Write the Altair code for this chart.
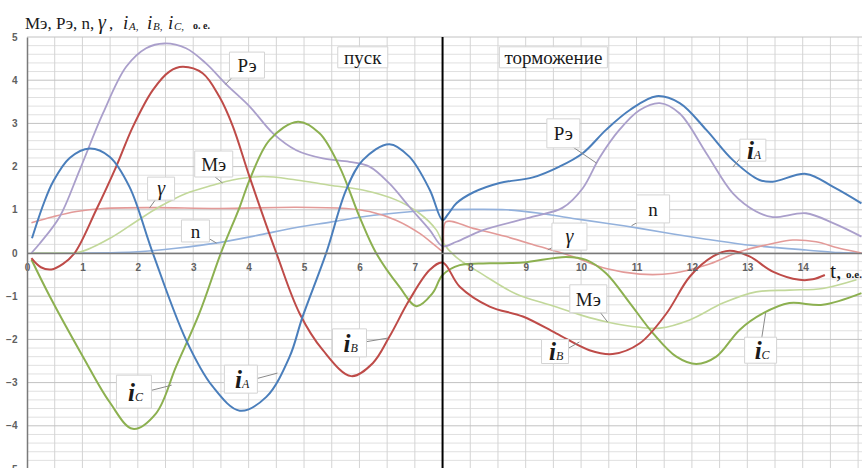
import altair as alt
import numpy as np
import pandas as pd

# ---------------- series (t in o.e., value in o.e.) ----------------
ia_t = [0.09, 0.3, 0.47, 0.77, 1.13, 1.49, 1.85, 2.27, 2.87, 3.35, 3.84, 4.32, 4.74, 4.97, 5.4,
        5.76, 6.06, 6.54, 6.9, 7.27, 7.5, 7.6, 7.75, 8.05, 8.53, 9.13, 9.61, 10.03, 10.45, 10.88,
        11.36, 11.78, 12.26, 12.74, 13.22, 13.46, 14.06, 14.55, 15.06]
ia_v = [0.34, 1.14, 1.65, 2.2, 2.42, 2.23, 1.53, 0.0, -2.01, -3.09, -3.65, -3.33, -2.4, -1.49, 0.0,
        1.46, 2.15, 2.52, 2.23, 1.46, 0.76, 0.9, 1.15, 1.4, 1.62, 1.75, 2.0, 2.31, 2.85, 3.31,
        3.63, 3.47, 2.85, 2.15, 1.69, 1.65, 1.83, 1.53, 1.15]

ib_t = [0.08, 0.25, 0.44, 0.65, 0.86, 1.25, 1.61, 1.91, 2.27, 2.57, 2.81, 3.17, 3.47, 3.71, 4.02,
        4.5, 4.92, 5.34, 5.85, 6.24, 6.54, 6.9, 7.27, 7.5, 7.81, 8.35, 8.95, 9.55, 10.15, 10.57,
        11.06, 11.54, 11.96, 12.38, 12.68, 13.04, 13.46, 13.94, 14.18, 14.4]
ib_v = [-0.12, -0.33, -0.38, -0.25, 0.0, 1.0, 2.0, 2.92, 3.77, 4.2, 4.31, 4.16, 3.62, 2.95, 1.75,
        0.0, -1.4, -2.25, -2.85, -2.55, -1.94, -1.09, -0.39, -0.22, -0.78, -1.24, -1.47, -1.86, -2.25, -2.34,
        -2.09, -1.4, -0.55, -0.08, 0.05, -0.08, -0.43, -0.62, -0.61, -0.51]

ic_t = [0.08, 0.41, 1.01, 1.49, 1.91, 2.33, 2.69, 3.11, 3.5, 3.84, 4.02, 4.38, 4.89, 5.28, 5.64,
        6.0, 6.3, 6.72, 7.03, 7.32, 7.5, 7.81, 8.35, 8.95, 9.73, 10.09, 10.45, 10.88, 11.3, 11.72,
        12.08, 12.44, 12.86, 13.28, 13.76, 14.36, 15.06]
ic_v = [-0.15, -1.0, -2.4, -3.45, -4.07, -3.71, -2.63, -1.4, 0.0, 1.07, 1.7, 2.62, 3.04, 2.77, 2.0,
        0.84, 0.0, -0.78, -1.23, -0.93, -0.51, -0.28, -0.24, -0.22, -0.09, -0.16, -0.47, -1.16, -1.86, -2.4,
        -2.57, -2.4, -1.78, -1.4, -1.16, -1.2, -0.93]

pe_t = [0.08, 0.23, 0.59, 0.95, 1.37, 1.79, 2.15, 2.48, 2.87, 3.23, 3.6, 4.02, 4.44, 4.86, 5.34,
        5.82, 6.18, 6.54, 6.9, 7.27, 7.5, 7.75, 8.23, 9.13, 9.67, 10.03, 10.33, 10.69, 11.06, 11.42,
        11.78, 12.26, 12.74, 13.16, 13.46, 14.06, 14.55, 15.06]
pe_v = [0.0, 0.22, 0.84, 1.92, 3.23, 4.31, 4.74, 4.85, 4.74, 4.39, 3.9, 3.39, 2.77, 2.38, 2.19,
        2.11, 2.0, 1.61, 1.07, 0.53, 0.16, 0.26, 0.53, 0.84, 1.05, 1.5, 2.2, 2.85, 3.31, 3.47,
        3.23, 2.31, 1.38, 0.96, 0.83, 0.92, 0.69, 0.38]

me_t = [0.08, 0.5, 0.95, 1.55, 1.97, 2.39, 2.87, 3.35, 3.71, 4.26, 4.86, 5.46, 6.06, 6.66, 7.08,
        7.39, 7.5, 7.75, 8.23, 8.83, 9.43, 10.03, 10.45, 11.06, 11.42, 11.96, 12.56, 13.16, 13.76, 14.36,
        14.97]
me_v = [0.0, 0.0, 0.02, 0.38, 0.73, 1.07, 1.38, 1.57, 1.69, 1.77, 1.69, 1.57, 1.46, 1.23, 0.92,
        0.53, 0.25, -0.1, -0.5, -0.95, -1.2, -1.45, -1.59, -1.72, -1.74, -1.55, -1.16, -0.9, -0.86, -0.82,
        -0.62]

gm_t = [0.08, 0.47, 0.89, 1.37, 2.27, 3.47, 4.86, 5.76, 6.18, 6.66, 7.08, 7.39, 7.5, 7.56, 8.05,
        8.65, 9.25, 9.85, 10.45, 11.06, 11.66, 12.26, 12.86, 13.46, 13.82, 14.24, 14.66, 15.06]
gm_v = [0.7, 0.84, 0.96, 1.03, 1.05, 1.03, 1.06, 1.03, 0.96, 0.76, 0.46, 0.15, 0.05, 0.72, 0.57,
        0.38, 0.15, -0.08, -0.36, -0.49, -0.47, -0.28, 0.03, 0.22, 0.3, 0.26, 0.11, 0.0]

n_t = [0.08, 1.0, 2.0, 2.69, 3.47, 4.2, 4.86, 5.5, 6.06, 6.96, 7.5, 8.05, 8.65, 9.25, 9.85,
       10.45, 11.06, 11.66, 12.26, 12.86, 13.46, 14.06, 14.66, 15.06]
n_v = [0.0, 0.0, 0.03, 0.11, 0.24, 0.42, 0.59, 0.72, 0.84, 0.96, 1.0, 1.01, 1.0, 0.92, 0.8,
       0.69, 0.57, 0.44, 0.32, 0.21, 0.13, 0.07, 0.01, 0.0]

# start / braking boundary
divider_t = [7.5]

# ---------------- geometry ----------------
T_MAX = 15.07
W, H = 835, 432
PX_T = W / T_MAX
PX_V = H / 10.0

x_scale = alt.Scale(domain=[0, T_MAX], nice=False, zero=False)
y_scale = alt.Scale(domain=[-5, 5], nice=False, zero=False)

SERIF = "Liberation Serif, Times New Roman, serif"

# ---------------- axes (x axis sits on the zero line) ----------------
major_y = list(range(-5, 6))
axis_layer = alt.Chart(pd.DataFrame({"t": [0, T_MAX], "v": [0, 0]})).mark_point(opacity=0).encode(
    x=alt.X("t:Q", scale=x_scale, title=None,
            axis=alt.Axis(values=list(range(0, 15)), grid=False, ticks=False, offset=-H / 2,
                          labelColor="#606060", labelFontSize=10, labelFontWeight="bold",
                          labelFont="Liberation Sans", labelPadding=9, labelFlush=False,
                          domainColor="#7a7a7a", domainWidth=1.5, zindex=1)),
    y=alt.Y("v:Q", scale=y_scale, title=None,
            axis=alt.Axis(values=major_y, grid=False, ticks=False,
                          labelColor="#606060", labelFontSize=10, labelFontWeight="bold",
                          labelFont="Liberation Sans", labelPadding=10, labelFlush=False,
                          domainColor="#7a7a7a", domainWidth=1.5, zindex=1)),
)

# ---------------- grid ----------------
minor_y = [v for v in np.round(np.arange(-5, 5.001, 0.2), 2) if abs(v - round(v)) > 1e-6]
grid_x = list(np.round(np.arange(0.5, T_MAX, 0.5), 2))

grid_minor_y = alt.Chart(pd.DataFrame({"g": minor_y})).mark_rule(
    color="#e0e0e0", strokeWidth=1).encode(y=alt.Y("g:Q", scale=y_scale, axis=None))
grid_major_y = alt.Chart(pd.DataFrame({"g": major_y})).mark_rule(
    color="#c2c2c2", strokeWidth=1).encode(y=alt.Y("g:Q", scale=y_scale, axis=None))
grid_vx = alt.Chart(pd.DataFrame({"g": grid_x})).mark_rule(
    color="#d4d4d4", strokeWidth=1).encode(x=alt.X("g:Q", scale=x_scale, axis=None))

# ---------------- curves ----------------
series = [
    ("n", n_t, n_v, "#93B1DC", 1.6),
    ("γ", gm_t, gm_v, "#E39A98", 1.6),
    ("Мэ", me_t, me_v, "#C2D89A", 1.6),
    ("Рэ", pe_t, pe_v, "#AA9FCB", 1.8),
    ("iC", ic_t, ic_v, "#8CB050", 2.0),
    ("iB", ib_t, ib_v, "#BE4B48", 2.0),
    ("iA", ia_t, ia_v, "#4A7EBB", 2.0),
]
curve_layers = []
for name, ts, vs, color, w in series:
    df = pd.DataFrame({"t": ts, "v": vs, "s": name})
    curve_layers.append(
        alt.Chart(df).mark_line(color=color, strokeWidth=w, interpolate="catmull-rom", clip=True)
        .encode(x=alt.X("t:Q", scale=x_scale, axis=None), y=alt.Y("v:Q", scale=y_scale, axis=None))
    )

divider = alt.Chart(pd.DataFrame({"t": divider_t})).mark_rule(color="black", strokeWidth=2).encode(
    x=alt.X("t:Q", scale=x_scale, axis=None))

# ---------------- callouts ----------------
# text, subscript, centre t, centre v, box width px, box height px, kind
labels = [
    ("Рэ", "", 3.97, 4.35, 35, 26, "plain"),
    ("Мэ", "", 3.37, 2.06, 38, 26, "plain"),
    ("γ", "", 2.42, 1.49, 27, 23, "italic"),
    ("n", "", 3.04, 0.51, 28, 22, "plain"),
    ("i", "C", 1.93, -3.21, 35, 33, "sub"),
    ("i", "A", 3.86, -2.92, 33, 28, "sub"),
    ("i", "B", 5.82, -2.08, 34, 28, "sub"),
    ("Рэ", "", 9.68, 2.77, 33, 29, "plain"),
    ("i", "A", 13.1, 2.38, 26, 22, "sub"),
    ("n", "", 11.3, 1.02, 33, 28, "plain"),
    ("γ", "", 9.79, 0.38, 35, 27, "italic"),
    ("Мэ", "", 10.13, -1.06, 37, 28, "plain"),
    ("i", "B", 9.53, -2.28, 27, 24, "sub"),
    ("i", "C", 13.24, -2.25, 32, 26, "sub"),
    ("пуск", "", 6.06, 4.53, 50, 21, "plain"),
    ("торможение", "", 9.5, 4.53, 108, 21, "plain"),
]
lab = pd.DataFrame(labels, columns=["txt", "sub", "t", "v", "bw", "bh", "kind"])
lab["x1"] = lab["t"] - lab["bw"] / 2 / PX_T
lab["x2"] = lab["t"] + lab["bw"] / 2 / PX_T
lab["y1"] = lab["v"] - lab["bh"] / 2 / PX_V
lab["y2"] = lab["v"] + lab["bh"] / 2 / PX_V

leaders = pd.DataFrame(
    [(3.69, 4.05, 3.58, 3.9), (3.28, 1.88, 3.53, 1.62), (2.34, 1.27, 2.21, 1.04),
     (3.17, 0.42, 3.42, 0.23), (2.12, -3.22, 2.61, -3.06), (4.05, -2.94, 4.52, -2.78),
     (6.0, -2.08, 6.51, -1.97), (9.74, 2.55, 10.28, 2.08), (12.92, 2.27, 12.74, 1.99),
     (11.15, 0.81, 10.91, 0.63), (9.63, 0.23, 9.4, 0.07), (10.26, -1.23, 10.48, -1.6),
     (9.71, -2.25, 9.97, -2.06), (13.26, -1.97, 13.33, -1.39)],
    columns=["t1", "v1", "t2", "v2"])

leader_layer = alt.Chart(leaders).mark_rule(color="#8a8a8a", strokeWidth=1).encode(
    x=alt.X("t1:Q", scale=x_scale, axis=None), y=alt.Y("v1:Q", scale=y_scale, axis=None),
    x2="t2:Q", y2="v2:Q")

box_layer = alt.Chart(lab).mark_rect(fill="white", stroke="#d4d4d4", strokeWidth=1).encode(
    x=alt.X("x1:Q", scale=x_scale, axis=None), x2="x2:Q",
    y=alt.Y("y1:Q", scale=y_scale, axis=None), y2="y2:Q")

enc_xy = dict(x=alt.X("t:Q", scale=x_scale, axis=None), y=alt.Y("v:Q", scale=y_scale, axis=None))

plain_text = alt.Chart(lab[lab.kind == "plain"]).mark_text(
    font=SERIF, fontSize=19, color="#1a1a1a", baseline="middle", align="center", dy=1).encode(
    text="txt:N", **enc_xy)
italic_text = alt.Chart(lab[lab.kind == "italic"]).mark_text(
    font=SERIF, fontSize=20, fontStyle="italic", color="#1a1a1a", baseline="middle", align="center").encode(
    text="txt:N", **enc_xy)
i_text = alt.Chart(lab[lab.kind == "sub"]).mark_text(
    font=SERIF, fontSize=25, fontStyle="italic", fontWeight="bold", color="#1a1a1a",
    baseline="alphabetic", align="right", dy=9, dx=1).encode(text="txt:N", **enc_xy)
sub_text = alt.Chart(lab[lab.kind == "sub"]).mark_text(
    font=SERIF, fontSize=12, fontStyle="italic", color="#1a1a1a",
    baseline="alphabetic", align="left", dy=9, dx=1).encode(text="sub:N", **enc_xy)

# ---------------- titles ----------------
def piece(s, x, y, size, style="normal", weight="normal"):
    return alt.Chart(pd.DataFrame({"s": [s]})).mark_text(
        font=SERIF, fontSize=size, fontStyle=style, fontWeight=weight, color="#1a1a1a",
        align="left", baseline="alphabetic").encode(text="s:N", x=alt.value(x), y=alt.value(y))

TY = -8
title_parts = [
    piece("Мэ, Рэ, n,", -2, TY, 17),
    piece("γ", 71, TY, 20, "italic"),
    piece(" ,", 82, TY, 17),
    piece("i", 96, TY, 19, "italic"),
    piece("A,", 102, TY + 1, 11, "italic"),
    piece("i", 120, TY, 19, "italic"),
    piece("B,", 126, TY + 1, 11, "italic"),
    piece("i", 141, TY, 19, "italic"),
    piece("C,", 147, TY + 1, 11, "italic"),
    piece("о. е.", 166, TY, 10, "normal", "bold"),
    piece("t,", 803, 241, 22),
    piece("о.е.", 819, 241, 11, "normal", "bold"),
]

chart = alt.layer(
    axis_layer, grid_minor_y, grid_vx, grid_major_y,
    *curve_layers, divider, leader_layer, box_layer,
    plain_text, italic_text, i_text, sub_text, *title_parts,
).resolve_axis(x="independent", y="independent").properties(
    width=W, height=H,
    padding={"left": 27, "top": 37, "right": 0, "bottom": 0},
    autosize=alt.AutoSizeParams(type="none"),
    background="white",
).configure_view(strokeWidth=0)

chart.save("out.html", embed_options={"renderer": "svg", "actions": False})
